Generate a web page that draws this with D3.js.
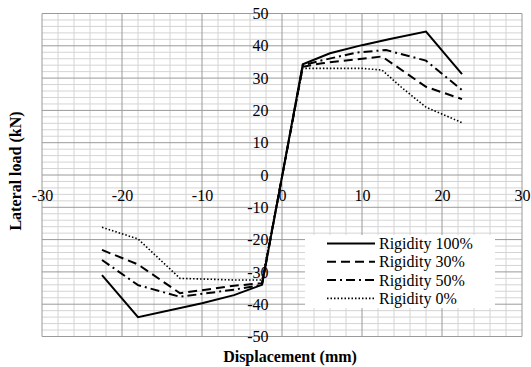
<!DOCTYPE html>
<html>
<head>
<meta charset="utf-8">
<script src="https://cdn.jsdelivr.net/npm/d3@7"></script>
<style>
  body { margin: 0; background: #fff; }
  .minor { stroke: #d4d4d4; stroke-width: 1; }
  .major { stroke: #9a9a9a; stroke-width: 1; }
</style>
</head>
<body>
<div id="chart"></div>
<script>
// data (displacement mm, lateral load kN)
const rigidity100 = [[-22.5,-31],[-18,-44],[-10,-39.7],[-6,-37.2],[-2.5,-34],[2.6,34.3],[6,37.7],[10,40.2],[13.5,42.1],[18,44.4],[22.5,31.2]];
const rigidity30 = [[-22.5,-23.2],[-18,-27.7],[-12.75,-36.6],[-6,-34.3],[-2.5,-33.5],[2.6,33.5],[5,34.6],[10,36],[12.5,36.7],[18,27.3],[22.5,23.5]];
const rigidity50 = [[-22.5,-26.3],[-18,-34.1],[-12.75,-37.7],[-6,-35.5],[-2.5,-34],[2.6,34],[5,35.5],[9.3,37.9],[13,38.7],[18,35.4],[22.5,26.3]];
const rigidity0 = [[-22.5,-16.2],[-18,-19.8],[-12.75,-32],[-6,-32.5],[-2.5,-32.5],[2.6,33],[10,33],[12.5,32.5],[15,27],[18,21],[22.5,16.2]];

const seriesNames = ['Rigidity 100%', 'Rigidity 30%', 'Rigidity 50%', 'Rigidity 0%'];
const xTicks = [-30, -20, -10, 0, 10, 20, 30];
const yTicks = [-50, -40, -30, -20, -10, 0, 10, 20, 30, 40, 50];

const FONT = 'Liberation Serif';
const width = 531, height = 367;
const svg = d3.select('#chart').append('svg').attr('width', width).attr('height', height);

const x = d3.scaleLinear().domain([-30, 30]).range([42, 522]);
const y = d3.scaleLinear().domain([-50, 50]).range([336.5, 13.5]);

// grid - minor every 2, major every 10
const minorX = d3.range(-30, 31, 2).filter(v => v % 10 !== 0);
const minorY = d3.range(-50, 51, 2).filter(v => v % 10 !== 0);

svg.append('g').selectAll('line').data(minorX).enter().append('line')
  .attr('class', 'minor')
  .attr('x1', d => x(d)).attr('x2', d => x(d))
  .attr('y1', y(50)).attr('y2', y(-50));
svg.append('g').selectAll('line').data(minorY).enter().append('line')
  .attr('class', 'minor')
  .attr('y1', d => y(d)).attr('y2', d => y(d))
  .attr('x1', x(-30)).attr('x2', x(30));
svg.append('g').selectAll('line').data(xTicks).enter().append('line')
  .attr('class', 'major')
  .attr('x1', d => x(d)).attr('x2', d => x(d))
  .attr('y1', y(50)).attr('y2', y(-50));
svg.append('g').selectAll('line').data(yTicks).enter().append('line')
  .attr('class', 'major')
  .attr('y1', d => y(d)).attr('y2', d => y(d))
  .attr('x1', x(-30)).attr('x2', x(30));

// axes crossing at 0 (plain hyphen for minus, like the original)
const xAxis = svg.append('g')
  .attr('transform', `translate(0,${y(0)})`)
  .attr('font-family', FONT).attr('font-size', 16)
  .call(d3.axisBottom(x).tickValues(xTicks).tickSize(0).tickPadding(15).tickFormat(d => String(d)));
xAxis.select('.domain').remove();

const yAxis = svg.append('g')
  .attr('transform', `translate(${x(0)},0)`)
  .call(d3.axisLeft(y).tickValues(yTicks).tickSize(0).tickPadding(13.5).tickFormat(d => String(d)));
yAxis.select('.domain').remove();

// d3 axis puts sans-serif on the group, override it
[xAxis, yAxis].forEach(g => {
  g.attr('font-family', FONT).attr('font-size', 16);
  g.selectAll('text').attr('fill', '#000');
});

// curves
const line = d3.line().x(d => x(d[0])).y(d => y(d[1]));
const styles = [
  { data: rigidity100, dash: null, w: 2 },
  { data: rigidity30, dash: '9,5', w: 2 },
  { data: rigidity50, dash: '9,4,2,4', w: 2 },
  { data: rigidity0, dash: '1.5,2', w: 1.6 }
];
// draw solid last so it sits on top
[3, 2, 1, 0].forEach(i => {
  svg.append('path')
    .datum(styles[i].data)
    .attr('d', line)
    .attr('fill', 'none')
    .attr('stroke', '#000')
    .attr('stroke-width', styles[i].w)
    .attr('stroke-dasharray', styles[i].dash);
});

// legend
const legend = svg.append('g');
legend.append('rect')
  .attr('x', 305).attr('y', 235).attr('width', 190).attr('height', 73)
  .attr('fill', '#fff');
seriesNames.forEach((name, i) => {
  const ly = 243.5 + i * 18.3;
  legend.append('line')
    .attr('x1', 327).attr('x2', 375).attr('y1', ly).attr('y2', ly)
    .attr('stroke', '#000')
    .attr('stroke-width', styles[i].w)
    .attr('stroke-dasharray', styles[i].dash);
  legend.append('text')
    .attr('x', 379).attr('y', ly).attr('dy', '0.35em')
    .attr('font-family', FONT).attr('font-size', 16)
    .text(name);
});

// axis titles
svg.append('text')
  .attr('x', 290).attr('y', 362)
  .attr('text-anchor', 'middle')
  .attr('font-family', FONT).attr('font-size', 16).attr('font-weight', 'bold')
  .text('Displacement (mm)');
svg.append('text')
  .attr('transform', `translate(21,${y(0) - 4}) rotate(-90)`)
  .attr('text-anchor', 'middle')
  .attr('font-family', FONT).attr('font-size', 16).attr('font-weight', 'bold')
  .text('Lateral load (kN)');
</script>
</body>
</html>
